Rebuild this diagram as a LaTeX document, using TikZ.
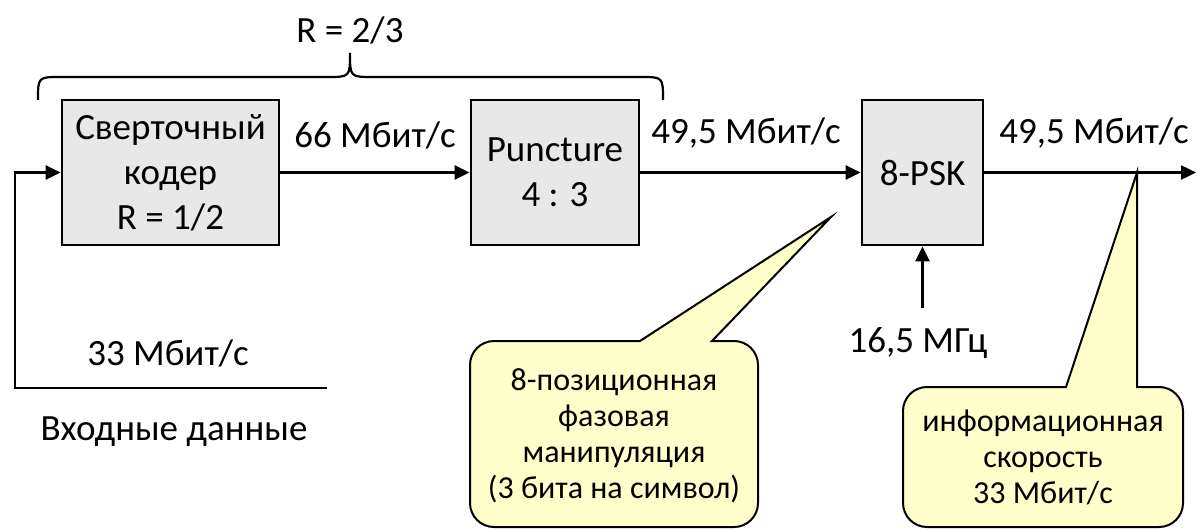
\documentclass[tikz,border=0pt]{standalone}
\usepackage{fontspec}
\setmainfont{Carlito}
\usetikzlibrary{positioning, arrows.meta}
\definecolor{blockgray}{RGB}{232, 232, 232}
\definecolor{noteyellow}{RGB}{255, 255, 204}

\tikzset{
  block/.style={draw, line width=1.4pt, fill=blockgray, align=center, inner sep=0pt,
                minimum height=72.5pt, font=\fontsize{18.5}{22.5}\selectfont},
  flow/.style={line width=1.2pt, -{Triangle[length=7.5pt, width=7pt]}},
  rate/.style={inner sep=0pt, font=\fontsize{18.5}{22.5}\selectfont},
  note/.style={draw, line width=1pt, fill=noteyellow},
  notetext/.style={align=center, inner sep=0pt, font=\fontsize{16}{18}\selectfont}
}

\begin{document}
\begin{tikzpicture}[x=0.5pt, y=-0.5pt]
  \useasboundingbox (0,0) rectangle (1197,529);

  % Blocks
  \node[block, minimum width=108.5pt] (coder) at (170.5,172.5) {Сверточный\\кодер\\R = 1/2};
  \node[block, minimum width=84pt] (punct) at (555,172.5) {Puncture\\4 : 3};
  \node[block, minimum width=60.5pt] (psk) at (922.5,172.5) {8-PSK};

  % Rates
  \node[rate] (r23) at (350,30) {R = 2/3};
  \node[rate] (rate66) at (375,135) {66 Мбит/с};
  \node[rate] (rate495a) at (746,133) {49,5 Мбит/с};
  \node[rate] (rate495b) at (1094,133) {49,5 Мбит/с};
  \node[rate] (rate33) at (168,353) {33 Мбит/с};
  \node[rate] (inlabel) at (174,432) {Входные данные};
  \node[rate] (freq) at (918,343) {16,5 МГц};

  % Brace
  \draw[line width=1.1pt] (38,100) .. controls (38,77) .. (61,77) -- (327,77)
    .. controls (350,77) .. (350,53) .. controls (350,77) .. (373,77) -- (640,77)
    .. controls (663,77) .. (663,100);

  % Flow
  \coordinate (inEnd) at (327,388);
  \coordinate (inCorner) at (15,388);
  \coordinate (outEnd) at (1196,172.5);
  \coordinate (clkStart) at (922.5,308);
  \draw[flow] (inEnd) -- (inCorner) |- (coder.west);
  \draw[flow] (coder) -- (punct);
  \draw[flow] (punct) -- (psk);
  \draw[flow] (psk) -- (outEnd);
  \draw[flow] (clkStart) -- (psk);

  % Callouts
  \coordinate (pskTip) at (831,217);
  \coordinate (rateTip) at (1137,172.5);
  \draw[note] (640,341) -- (pskTip) -- (712,341) -- (735,341)
    [rounded corners=12pt] -- (758,341) -- (758,527) -- (470,527) -- (470,341) -- (600,341)
    [sharp corners] -- cycle;
  \draw[note] (1066,387) -- (rateTip) -- (1137,387) -- (1150,387)
    [rounded corners=12pt] -- (1183,387) -- (1183,527) -- (903,527) -- (903,387) -- (1000,387)
    [sharp corners] -- cycle;
  \node[notetext] (psknote) at (614,436) {8-позиционная\\фазовая\\манипуляция\\(3 бита на символ)};
  \node[notetext] (ratenote) at (1043,457) {информационная\\скорость\\33 Мбит/с};
\end{tikzpicture}
\end{document}
